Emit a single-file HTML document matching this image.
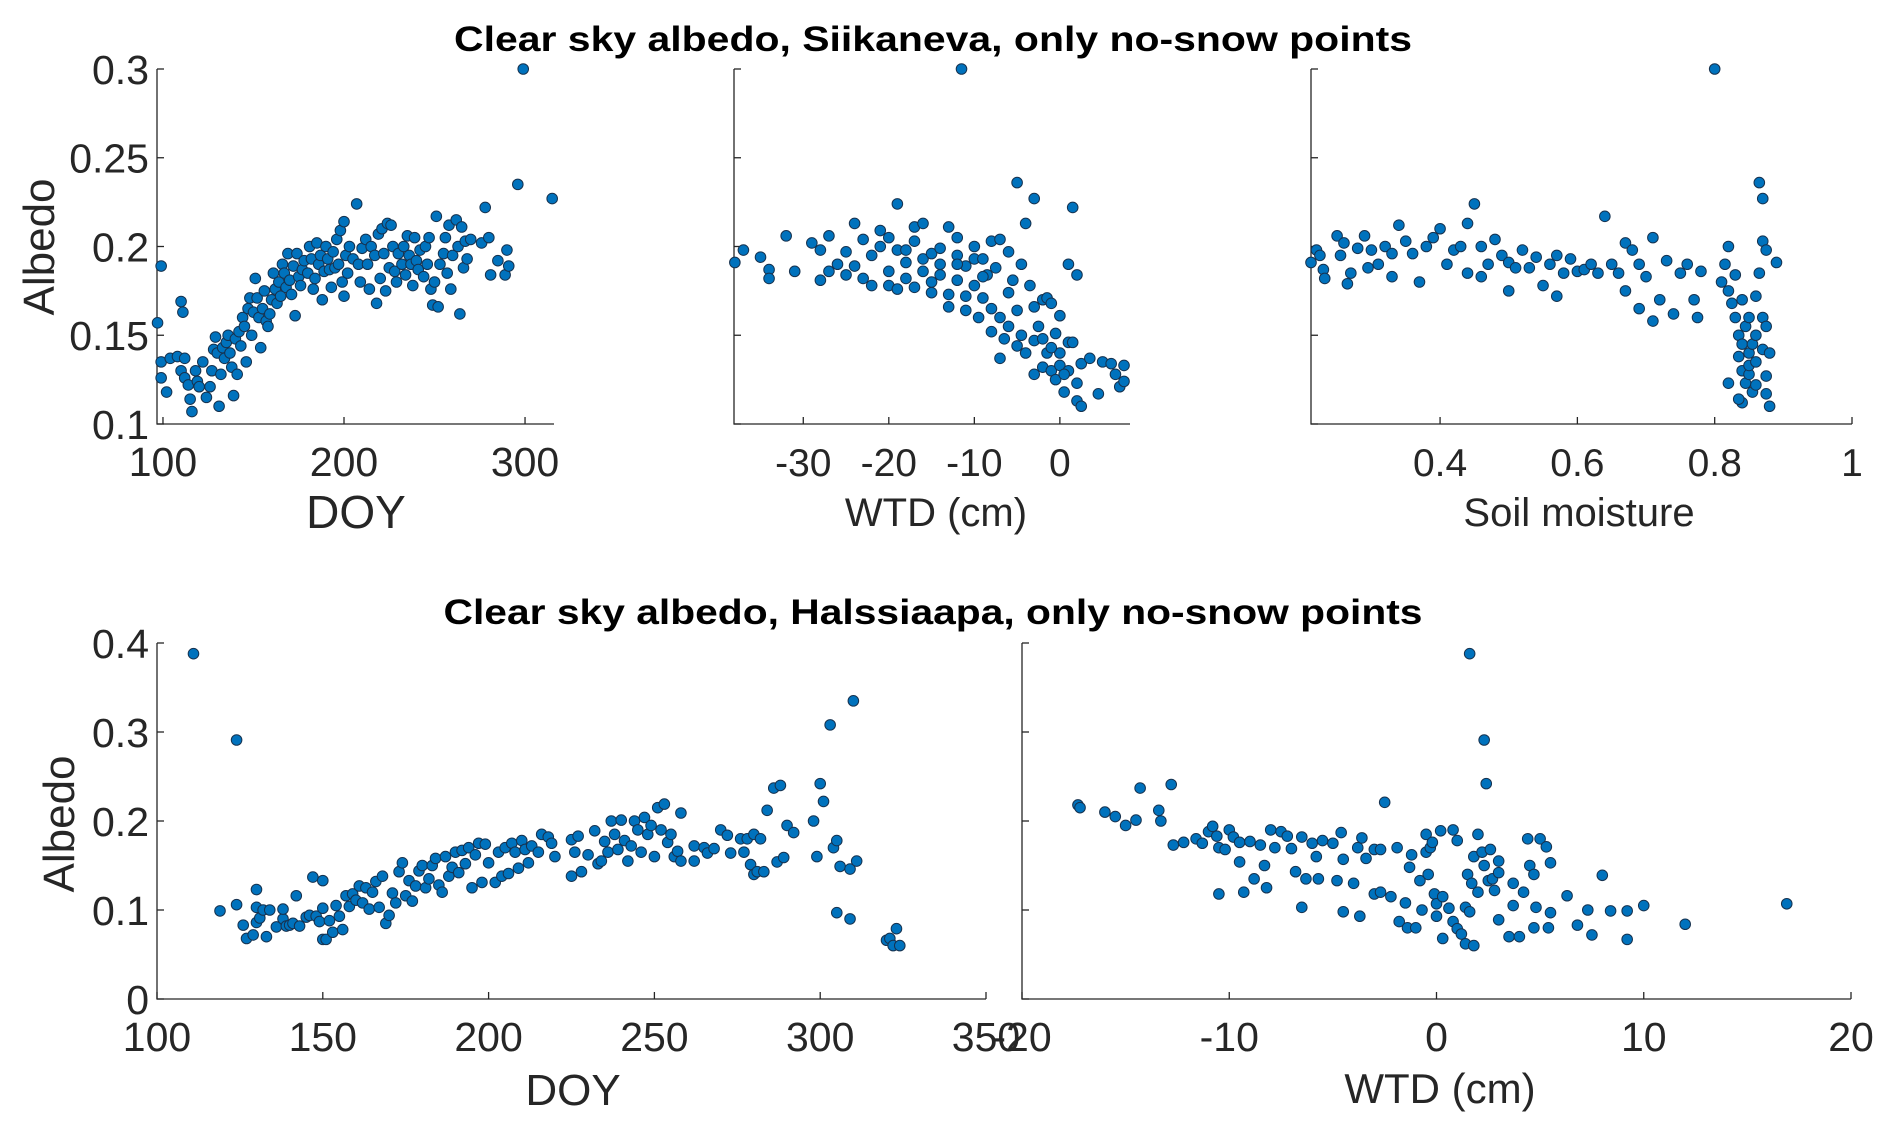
<!DOCTYPE html>
<html>
<head>
<meta charset="utf-8">
<style>
  html,body{margin:0;padding:0;background:#fff;}
  svg{display:block;font-family:"Liberation Sans",Arial,sans-serif;}
</style>
</head>
<body>
<svg id="fig" width="1892" height="1127" viewBox="0 0 1892 1127" xmlns="http://www.w3.org/2000/svg">
  <rect width="1892" height="1127" fill="#fff"/>
  <text x="933" y="51" text-anchor="middle" font-weight="bold" font-size="35" textLength="958" lengthAdjust="spacingAndGlyphs" fill="#000">Clear sky albedo, Siikaneva, only no-snow points</text>
  <text x="933" y="624" text-anchor="middle" font-weight="bold" font-size="35" textLength="979" lengthAdjust="spacingAndGlyphs" fill="#000">Clear sky albedo, Halssiaapa, only no-snow points</text>
</svg>
<script>
// ---- Data: Siikaneva, DOY vs albedo ----
const sDoy = [97,99,99,99,102,104,108,110,111,112,110,112,114,115,116,118,119,120,122,124,126,127,128,129,130,131,132,133,134,135,136,137,138,139,140,141,142,143,144,145,146,147,148,149,150,151,152,153,154,155,156,157,158,159,160,161,162,163,164,165,166,167,168,169,170,171,172,173,174,175,176,177,178,180,181,182,183,184,185,186,187,188,189,190,191,192,193,194,195,196,197,198,199,200,200,201,202,203,205,207,208,209,210,212,213,214,215,217,218,219,220,221,222,223,224,225,226,227,228,229,230,232,233,234,235,236,237,238,239,240,241,242,244,245,246,247,248,249,250,251,252,253,255,256,257,258,259,260,262,263,264,265,266,267,268,270,276,278,280,281,285,289,290,291,296,299,315];
const sDoyAlb = [0.157,0.189,0.135,0.126,0.118,0.137,0.138,0.169,0.163,0.137,0.130,0.126,0.122,0.114,0.107,0.130,0.124,0.121,0.135,0.115,0.121,0.130,0.142,0.149,0.140,0.110,0.128,0.143,0.137,0.146,0.150,0.140,0.132,0.116,0.148,0.128,0.152,0.144,0.160,0.155,0.135,0.165,0.171,0.150,0.163,0.182,0.171,0.160,0.143,0.165,0.175,0.158,0.155,0.162,0.170,0.185,0.176,0.168,0.180,0.172,0.190,0.185,0.177,0.196,0.181,0.173,0.189,0.161,0.196,0.183,0.178,0.187,0.192,0.185,0.200,0.193,0.176,0.182,0.202,0.190,0.195,0.170,0.186,0.200,0.193,0.187,0.177,0.197,0.188,0.204,0.190,0.209,0.180,0.172,0.214,0.195,0.185,0.200,0.193,0.224,0.190,0.180,0.199,0.204,0.190,0.176,0.200,0.195,0.168,0.207,0.182,0.210,0.196,0.175,0.213,0.188,0.212,0.200,0.186,0.180,0.196,0.190,0.200,0.184,0.206,0.195,0.190,0.178,0.205,0.192,0.187,0.198,0.183,0.200,0.190,0.205,0.176,0.167,0.180,0.217,0.166,0.190,0.196,0.205,0.185,0.212,0.176,0.195,0.215,0.200,0.162,0.211,0.188,0.203,0.193,0.204,0.202,0.222,0.205,0.184,0.192,0.184,0.198,0.189,0.235,0.300,0.227];
// ---- Siikaneva, WTD vs albedo ----
const sWtd = [-38,-37,-35,-34,-34,-32,-31,-29,-28,-28,-27,-27,-26,-25,-24,-24,-23,-23,-22,-22,-21,-21,-20,-20,-20,-19,-19,-18,-18,-17,-17,-17,-16,-16,-16,-15,-15,-14,-14,-14,-13,-13,-13,-12,-12,-12,-11.5,-11,-11,-11,-10,-10,-10,-9.5,-9,-9,-8.5,-8,-8,-7.5,-7,-7,-7,-6.5,-6,-6,-6,-5.5,-5,-5,-4.5,-4.5,-4,-4,-3.5,-3,-3,-3,-2.5,-2,-2,-1.5,-1.5,-1,-1,-0.5,-0.5,0,0,0,0.5,1,1,1,1.5,1.5,2,2,2,2.5,2.5,3.5,4.5,5,6,6.5,7,7.5,7.5,-9,-15,-19,-25,-8,-5,-3,-1,0.5,-2,-18,-12];
const sWtdAlb = [0.191,0.198,0.194,0.187,0.182,0.206,0.186,0.202,0.198,0.181,0.186,0.206,0.190,0.197,0.189,0.213,0.204,0.182,0.195,0.178,0.209,0.200,0.205,0.186,0.178,0.224,0.198,0.191,0.182,0.211,0.203,0.177,0.213,0.193,0.186,0.196,0.174,0.184,0.190,0.199,0.211,0.173,0.166,0.205,0.195,0.181,0.300,0.189,0.172,0.164,0.200,0.193,0.178,0.160,0.193,0.171,0.184,0.203,0.152,0.188,0.204,0.160,0.137,0.148,0.197,0.155,0.174,0.181,0.236,0.144,0.190,0.150,0.213,0.140,0.178,0.227,0.147,0.166,0.155,0.170,0.132,0.140,0.171,0.168,0.130,0.151,0.125,0.140,0.133,0.161,0.118,0.190,0.146,0.130,0.222,0.146,0.184,0.123,0.113,0.134,0.110,0.137,0.117,0.135,0.134,0.128,0.121,0.133,0.124,0.183,0.180,0.176,0.184,0.165,0.164,0.128,0.143,0.128,0.148,0.198,0.190];
// ---- Siikaneva, soil moisture vs albedo ----
const sSoil = [0.212,0.22,0.225,0.23,0.232,0.25,0.255,0.26,0.265,0.27,0.28,0.29,0.295,0.3,0.31,0.32,0.33,0.33,0.34,0.35,0.36,0.37,0.38,0.39,0.40,0.41,0.42,0.43,0.44,0.44,0.45,0.46,0.46,0.47,0.48,0.49,0.5,0.5,0.51,0.52,0.53,0.54,0.55,0.56,0.57,0.57,0.58,0.59,0.6,0.61,0.62,0.63,0.64,0.65,0.66,0.67,0.67,0.68,0.69,0.69,0.70,0.71,0.71,0.72,0.73,0.74,0.75,0.76,0.77,0.775,0.78,0.8,0.81,0.815,0.82,0.82,0.825,0.83,0.83,0.835,0.835,0.84,0.84,0.84,0.84,0.845,0.845,0.85,0.85,0.85,0.855,0.855,0.86,0.86,0.86,0.865,0.865,0.87,0.87,0.87,0.87,0.875,0.875,0.875,0.875,0.88,0.88,0.89,0.85,0.82,0.835,0.86];
const sSoilAlb = [0.191,0.198,0.195,0.187,0.182,0.206,0.195,0.202,0.179,0.185,0.199,0.206,0.188,0.198,0.190,0.200,0.196,0.183,0.212,0.203,0.196,0.180,0.200,0.205,0.210,0.190,0.198,0.200,0.185,0.213,0.224,0.200,0.183,0.190,0.204,0.195,0.191,0.175,0.188,0.198,0.188,0.194,0.178,0.190,0.195,0.172,0.185,0.193,0.186,0.187,0.190,0.185,0.217,0.190,0.185,0.202,0.175,0.198,0.190,0.165,0.183,0.158,0.205,0.170,0.192,0.162,0.185,0.190,0.170,0.160,0.186,0.300,0.180,0.190,0.200,0.175,0.168,0.184,0.160,0.150,0.138,0.170,0.145,0.130,0.112,0.123,0.155,0.140,0.128,0.133,0.118,0.145,0.135,0.122,0.150,0.185,0.236,0.227,0.203,0.160,0.142,0.127,0.198,0.117,0.155,0.140,0.110,0.191,0.160,0.123,0.114,0.172];
// ---- Halssiaapa, DOY vs albedo ----
const hDoy = [111,119,124,124,126,127,129,130,130,130,131,132,133,134,136,138,138,139,140,141,142,143,145,146,147,148,149,150,150,150,151,152,153,154,155,156,157,158,159,160,161,162,163,164,165,166,167,168,169,170,171,172,173,174,175,176,177,178,179,180,181,182,183,184,185,186,187,188,189,190,191,192,193,194,195,196,197,198,199,200,202,203,204,205,206,207,208,209,210,211,212,213,215,216,218,219,220,225,225,226,227,228,230,232,233,234,235,236,237,238,239,240,241,242,243,244,245,246,247,248,249,250,251,252,253,254,255,256,257,258,258,262,262,265,266,268,270,272,273,276,277,278,279,280,280,281,282,283,284,286,287,288,289,290,292,298,299,300,301,303,304,305,305,306,309,309,310,311,320,321,322,323,324];
const hDoyAlb = [0.388,0.099,0.291,0.106,0.083,0.068,0.072,0.086,0.123,0.103,0.091,0.100,0.070,0.100,0.081,0.090,0.101,0.082,0.083,0.085,0.116,0.082,0.092,0.094,0.137,0.093,0.087,0.067,0.133,0.102,0.067,0.088,0.075,0.105,0.093,0.078,0.116,0.104,0.118,0.111,0.127,0.108,0.125,0.101,0.120,0.132,0.103,0.138,0.085,0.094,0.119,0.108,0.143,0.153,0.116,0.133,0.110,0.127,0.144,0.150,0.125,0.135,0.150,0.158,0.128,0.120,0.160,0.138,0.148,0.165,0.142,0.167,0.152,0.170,0.125,0.162,0.175,0.131,0.174,0.153,0.131,0.165,0.138,0.170,0.141,0.175,0.165,0.147,0.178,0.168,0.153,0.172,0.165,0.185,0.182,0.175,0.160,0.179,0.138,0.165,0.183,0.143,0.162,0.189,0.152,0.155,0.177,0.165,0.200,0.185,0.168,0.201,0.178,0.155,0.172,0.200,0.190,0.165,0.204,0.185,0.195,0.160,0.215,0.190,0.219,0.176,0.185,0.160,0.166,0.209,0.155,0.155,0.172,0.170,0.164,0.169,0.190,0.184,0.164,0.180,0.165,0.180,0.151,0.185,0.140,0.143,0.180,0.143,0.212,0.237,0.154,0.240,0.159,0.195,0.187,0.200,0.160,0.242,0.222,0.308,0.170,0.097,0.178,0.149,0.146,0.090,0.335,0.155,0.066,0.068,0.060,0.079,0.060];
// ---- Halssiaapa, WTD vs albedo ----
const hWtd = [-17.3,-17.2,-16,-15.5,-15,-14.5,-14.3,-13.4,-13.3,-12.8,-12.7,-12.2,-11.6,-11.3,-11,-10.8,-10.6,-10.5,-10.5,-10.2,-10,-9.8,-9.5,-9.5,-9.3,-9,-8.8,-8.5,-8.3,-8.2,-8,-7.8,-7.5,-7.2,-7,-6.8,-6.5,-6.5,-6.3,-6,-5.8,-5.7,-5.5,-5,-4.8,-4.6,-4.5,-4.5,-4,-3.8,-3.7,-3.6,-3.4,-3,-3,-2.7,-2.7,-2.5,-2.2,-1.9,-1.8,-1.5,-1.4,-1.3,-1.2,-1,-0.8,-0.7,-0.5,-0.5,-0.4,-0.3,-0.2,-0.1,0,0,0.2,0.3,0.3,0.6,0.8,0.8,1,1,1.2,1.4,1.4,1.5,1.6,1.6,1.7,1.8,1.8,2,2,2.2,2.3,2.3,2.4,2.5,2.6,2.7,2.8,3,3,3,3.5,3.7,3.7,4,4.2,4.4,4.5,4.7,4.7,4.8,5,5.3,5.4,5.5,5.5,6.3,6.8,7.3,7.5,8,8.4,9.2,9.2,10,12,16.9];
const hWtdAlb = [0.218,0.215,0.210,0.205,0.195,0.201,0.237,0.212,0.200,0.241,0.173,0.176,0.180,0.175,0.188,0.194,0.183,0.170,0.118,0.168,0.190,0.182,0.176,0.154,0.120,0.177,0.135,0.173,0.150,0.125,0.190,0.170,0.188,0.183,0.169,0.143,0.182,0.103,0.135,0.175,0.160,0.135,0.178,0.175,0.133,0.187,0.157,0.098,0.130,0.170,0.093,0.181,0.158,0.168,0.118,0.168,0.120,0.221,0.115,0.170,0.087,0.108,0.080,0.148,0.162,0.080,0.133,0.100,0.185,0.165,0.140,0.170,0.176,0.118,0.093,0.107,0.189,0.115,0.068,0.102,0.087,0.190,0.178,0.079,0.073,0.103,0.062,0.140,0.388,0.098,0.130,0.060,0.160,0.185,0.120,0.165,0.291,0.150,0.242,0.133,0.168,0.135,0.122,0.155,0.089,0.142,0.070,0.130,0.105,0.070,0.120,0.180,0.150,0.140,0.080,0.103,0.180,0.171,0.080,0.097,0.153,0.116,0.083,0.100,0.072,0.139,0.099,0.067,0.099,0.105,0.084,0.107];

// tick label arrays
const xt1 = [100,200,300];
const xt2 = [-30,-20,-10,0];
const xt3 = [0.4,0.6,0.8,1];
const xt4 = [100,150,200,250,300,350];
const xt5 = [-20,-10,0,10,20];
const ytTop = [0.1,0.15,0.2,0.25,0.3];
const ytBot = [0,0.1,0.2,0.3,0.4];

const NS = 'http://www.w3.org/2000/svg';
const svg = document.getElementById('fig');
function mk(tag, attrs, parent){
  const e = document.createElementNS(NS, tag);
  for (const k in attrs) e.setAttribute(k, attrs[k]);
  (parent||svg).appendChild(e);
  return e;
}
function panel(cfg){
  const g = mk('g', {});
  
  
  const sx = v => cfg.px0 + (v - cfg.xmin) / (cfg.xmax - cfg.xmin) * (cfg.px1 - cfg.px0);
  const sy = v => cfg.py0 - (v - cfg.ymin) / (cfg.ymax - cfg.ymin) * (cfg.py0 - cfg.py1);
  const fs = cfg.tfs;
  const ax = mk('path', {d:`M${cfg.px0},${cfg.py1}V${cfg.py0}H${cfg.px1}`, fill:'none', stroke:'#262626', 'stroke-width':1.3}, g);
  
  
  cfg.yt.forEach(v => {
    const y = sy(v);
    mk('line', {x1:cfg.px0, x2:cfg.px0+7, y1:y, y2:y, stroke:'#262626', 'stroke-width':1.3}, g);
    if (cfg.ylabels) {
      const t = mk('text', {x:cfg.px0-8, y:y+fs*0.36, 'text-anchor':'end', 'font-size':fs, fill:'#262626'}, g);
      
      
      t.textContent = String(v);
    }
  });
  cfg.xt.forEach(v => {
    const x = sx(v);
    mk('line', {x1:x, x2:x, y1:cfg.py0, y2:cfg.py0-7, stroke:'#262626', 'stroke-width':1.3}, g);
    const t = mk('text', {x:x, y:cfg.py0+52, 'text-anchor':'middle', 'font-size':fs, fill:'#262626'}, g);
    
    
    t.textContent = String(v);
  });
  const xl = mk('text', {x:cfg.xlx, y:cfg.xly, 'text-anchor':'middle', 'font-size':cfg.xlfs, fill:'#262626'}, g);
  
  
  xl.textContent = cfg.xlabel;
  if (cfg.ylabel) {
    const yl = mk('text', {x:0, y:0, 'text-anchor':'middle', 'font-size':44, fill:'#262626', transform:`translate(${cfg.ylx},${cfg.yly}) rotate(-90)`}, g);
    
    
    yl.textContent = cfg.ylabel;
  }
  cfg.xs.forEach((xv, i) => {
    const c = mk('circle', {cx:sx(xv), cy:sy(cfg.ys[i]), r:5.3, fill:'#0072BD', stroke:'#16324f', 'stroke-width':1}, g);
    
    
  });
}
panel({name:'siikaneva-doy-panel', px0:157, px1:554, xmin:96.7, xmax:316, py0:424, py1:69, ymin:0.1, ymax:0.3, tfs:41,
  xt:xt1, yt:ytTop, ylabels:true, xs:sDoy, ys:sDoyAlb, xlabel:'DOY', xlx:356, xly:528, xlfs:46, ylabel:'Albedo', ylx:54, yly:247});
panel({name:'siikaneva-wtd-panel', px0:734, px1:1130, xmin:-38.1, xmax:8.2, py0:424, py1:69, ymin:0.1, ymax:0.3, tfs:39,
  xt:xt2, yt:ytTop, ylabels:false, xs:sWtd, ys:sWtdAlb, xlabel:'WTD (cm)', xlx:936, xly:526, xlfs:40});
panel({name:'siikaneva-soil-panel', px0:1311, px1:1852, xmin:0.212, xmax:1.0, py0:424, py1:69, ymin:0.1, ymax:0.3, tfs:39,
  xt:xt3, yt:ytTop, ylabels:false, xs:sSoil, ys:sSoilAlb, xlabel:'Soil moisture', xlx:1579, xly:526, xlfs:40});
panel({name:'halssiaapa-doy-panel', px0:157, px1:986, xmin:100, xmax:350, py0:999, py1:643, ymin:0, ymax:0.4, tfs:41,
  xt:xt4, yt:ytBot, ylabels:true, xs:hDoy, ys:hDoyAlb, xlabel:'DOY', xlx:573, xly:1105, xlfs:44, ylabel:'Albedo', ylx:74, yly:824});
panel({name:'halssiaapa-wtd-panel', px0:1022, px1:1851, xmin:-20, xmax:20, py0:999, py1:643, ymin:0, ymax:0.4, tfs:41,
  xt:xt5, yt:ytBot, ylabels:false, xs:hWtd, ys:hWtdAlb, xlabel:'WTD (cm)', xlx:1440, xly:1103, xlfs:42});
</script>
</body>
</html>
